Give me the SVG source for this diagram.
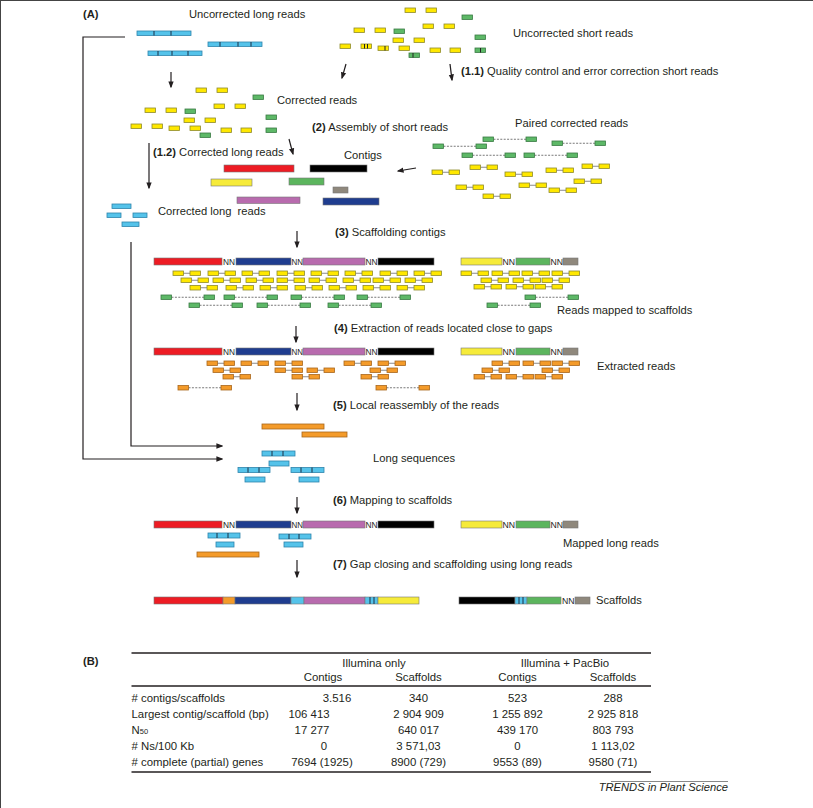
<svg xmlns="http://www.w3.org/2000/svg" width="813" height="808" viewBox="0 0 813 808">
<style>
text{font-family:"Liberation Sans",Arial,sans-serif;font-size:11.2px;fill:#231f20}
.bd{font-weight:bold}
.nn{font-size:9px;fill:#222}
.tb{font-size:11.4px}
.y{fill:#FFE800;stroke:#8E8A2C;stroke-width:0.8}
.g{fill:#5DB867;stroke:#3A7A44;stroke-width:0.8}
.b{fill:#55C3EA;stroke:#2D84AC;stroke-width:0.8}
.o{fill:#F49B2A;stroke:#A9671C;stroke-width:0.8}
.dv{stroke:#1C2E44;stroke-width:1}
.ln{stroke:#8a8a8a;stroke-width:1}
.ds{stroke:#555;stroke-width:0.8;stroke-dasharray:2 1.4}
.ar{fill:none;stroke:#231f20;stroke-width:1.2;marker-end:url(#ah)}
.tl{stroke:#231f20;stroke-width:1.4}
.bar{stroke:#777;stroke-width:0.6}
.mk{stroke:#222;stroke-width:1}
</style>
<defs>
<marker id="ah" viewBox="0 0 10 10" refX="8" refY="5" markerWidth="7" markerHeight="7" markerUnits="userSpaceOnUse" orient="auto"><path d="M0,1.2 L10,5 L0,8.8 z" fill="#231f20"/></marker>
<rect id="ry" class="y" width="10.5" height="4.5"/>
<rect id="rg" class="g" width="10.5" height="4.5"/>
<g id="yp"><line class="ln" x1="10.5" y1="2.25" x2="17" y2="2.25"/><rect class="y" width="10.5" height="4.5"/><rect class="y" x="17" width="10.5" height="4.5"/></g>
<g id="op"><line class="ln" x1="10.5" y1="2.25" x2="17" y2="2.25"/><rect class="o" width="10.5" height="4.5"/><rect class="o" x="17" width="10.5" height="4.5"/></g>
<g id="gp"><line class="ds" x1="10.5" y1="2.25" x2="43" y2="2.25"/><rect class="g" width="10.5" height="4.5"/><rect class="g" x="43" width="10.5" height="4.5"/></g>
<g id="odp"><line class="ds" x1="10.5" y1="2.25" x2="43" y2="2.25"/><rect class="o" width="10.5" height="4.5"/><rect class="o" x="43" width="10.5" height="4.5"/></g>
<g id="srset">
<use href="#ry" x="405" y="8"/><use href="#ry" x="426" y="8"/>
<use href="#ry" x="354" y="28"/><use href="#ry" x="375" y="28"/>
<use href="#ry" x="423" y="24"/><use href="#ry" x="444" y="24"/>
<use href="#ry" x="340" y="44"/><use href="#ry" x="361" y="44"/>
<use href="#ry" x="378" y="46"/><use href="#ry" x="393" y="38"/>
<use href="#ry" x="414" y="38"/><use href="#ry" x="399" y="46"/>
<use href="#ry" x="430" y="48"/><use href="#ry" x="450" y="48"/>
<use href="#rg" x="462" y="15"/><use href="#rg" x="394" y="29"/>
<use href="#rg" x="475" y="35"/><use href="#rg" x="409" y="53"/>
<use href="#rg" x="475" y="48"/>
</g>
<g id="scaf">
<rect class="bar" x="154" width="68" height="7" fill="#ED1C24"/>
<text class="nn" x="223" y="7" textLength="12" lengthAdjust="spacingAndGlyphs">NN</text>
<rect class="bar" x="236" width="55" height="7" fill="#1F3D8F"/>
<text class="nn" x="291.5" y="7" textLength="11.5" lengthAdjust="spacingAndGlyphs">NN</text>
<rect class="bar" x="303" width="62" height="7" fill="#B86BAE"/>
<text class="nn" x="365.5" y="7" textLength="12" lengthAdjust="spacingAndGlyphs">NN</text>
<rect class="bar" x="378" width="56" height="7" fill="#000"/>
<rect class="bar" x="461" width="41" height="7" fill="#F6EB3A"/>
<text class="nn" x="502.5" y="7" textLength="12.5" lengthAdjust="spacingAndGlyphs">NN</text>
<rect class="bar" x="516" width="34" height="7" fill="#5CB55E"/>
<text class="nn" x="550.5" y="7" textLength="12.5" lengthAdjust="spacingAndGlyphs">NN</text>
<rect class="bar" x="563" width="15" height="7" fill="#8F887C"/>
</g>
</defs>

<rect width="813" height="808" fill="#fff"/>
<line x1="0" y1="0.5" x2="813" y2="0.5" stroke="#444" stroke-width="1"/>
<line x1="0.5" y1="0" x2="0.5" y2="808" stroke="#444" stroke-width="1"/>

<g id="labels">
<text class="bd" x="83" y="18">(A)</text>
<text x="189" y="18">Uncorrected long reads</text>
<text x="513" y="37">Uncorrected short reads</text>
<text x="461" y="75"><tspan class="bd">(1.1)</tspan> Quality control and error correction short reads</text>
<text x="277" y="104">Corrected reads</text>
<text x="312" y="131"><tspan class="bd">(2)</tspan> Assembly of short reads</text>
<text x="515" y="127">Paired corrected reads</text>
<text x="153" y="156"><tspan class="bd">(1.2)</tspan> Corrected long reads</text>
<text x="344" y="159">Contigs</text>
<text x="158" y="215" xml:space="preserve">Corrected long  reads</text>
<text x="335" y="236"><tspan class="bd">(3)</tspan> Scaffolding contigs</text>
<text x="557" y="314">Reads mapped to scaffolds</text>
<text x="334" y="332"><tspan class="bd">(4)</tspan> Extraction of reads located close to gaps</text>
<text x="597" y="370">Extracted reads</text>
<text x="333" y="409"><tspan class="bd">(5)</tspan> Local reassembly of the reads</text>
<text x="373" y="462">Long sequences</text>
<text x="333" y="504"><tspan class="bd">(6)</tspan> Mapping to scaffolds</text>
<text x="563" y="547">Mapped long reads</text>
<text x="333" y="568"><tspan class="bd">(7)</tspan> Gap closing and scaffolding using long reads</text>
<text x="596" y="604">Scaffolds</text>
</g>

<g id="uncorrected-long-reads">
<rect class="b" x="137" y="31" width="54" height="4.5"/>
<line class="dv" x1="154" y1="31" x2="154" y2="35.5"/><line class="dv" x1="171" y1="31" x2="171" y2="35.5"/>
<rect class="b" x="208" y="42" width="54" height="4.5"/>
<line class="dv" x1="220" y1="42" x2="220" y2="46.5"/><line class="dv" x1="238" y1="42" x2="238" y2="46.5"/><line class="dv" x1="251" y1="42" x2="251" y2="46.5"/>
<rect class="b" x="148" y="51" width="54" height="4.5"/>
<line class="dv" x1="158" y1="51" x2="158" y2="55.5"/><line class="dv" x1="172" y1="51" x2="172" y2="55.5"/><line class="dv" x1="188" y1="51" x2="188" y2="55.5"/>
</g>

<g id="uncorrected-short-reads">
<use href="#srset"/>
<line class="mk" x1="364.5" y1="44" x2="364.5" y2="48.5"/><line class="mk" x1="367.5" y1="44" x2="367.5" y2="48.5"/>
<line class="mk" x1="385" y1="46" x2="385" y2="50.5"/>
<line class="mk" x1="413" y1="53" x2="413" y2="57.5"/>
<line class="mk" x1="480.5" y1="48" x2="480.5" y2="52.5"/>
</g>

<g id="corrected-reads">
<use href="#srset" x="-209" y="80"/>
</g>

<g id="contigs">
<rect class="bar" x="224" y="165" width="70" height="7" fill="#ED1C24"/>
<rect class="bar" x="310" y="165" width="57" height="7" fill="#000"/>
<rect class="bar" x="211" y="179" width="41" height="7" fill="#F6EB3A"/>
<rect class="bar" x="289" y="178" width="35" height="7" fill="#5CB55E"/>
<rect class="bar" x="333" y="187" width="15" height="6" fill="#8F887C"/>
<rect class="bar" x="237" y="197" width="63" height="6.5" fill="#B86BAE"/>
<rect class="bar" x="323" y="198" width="56" height="7" fill="#1F3D8F"/>
</g>

<g id="paired-corrected-reads">
<use href="#gp" x="433" y="144"/><use href="#gp" x="483" y="137"/><use href="#gp" x="552" y="141"/>
<use href="#gp" x="462" y="153"/><use href="#gp" x="524" y="153"/>
<use href="#yp" x="432" y="170"/><use href="#yp" x="470" y="165"/><use href="#yp" x="505" y="172"/>
<use href="#yp" x="546" y="168"/><use href="#yp" x="582" y="164"/><use href="#yp" x="456" y="185"/>
<use href="#yp" x="519" y="183"/><use href="#yp" x="549" y="188"/><use href="#yp" x="574" y="179"/>
<use href="#yp" x="483" y="194"/>
</g>

<g id="corrected-long-reads">
<rect class="b" x="112" y="204" width="19" height="4.5"/>
<rect class="b" x="107" y="213" width="14" height="4.5"/>
<rect class="b" x="133" y="213" width="14" height="4.5"/>
<rect class="b" x="122" y="222" width="17" height="4.5"/>
</g>

<g id="scaffolding">
<use href="#scaf" y="258"/>
<use href="#yp" x="173" y="271"/><use href="#yp" x="208" y="271"/><use href="#yp" x="242" y="271"/><use href="#yp" x="277" y="271"/>
<use href="#yp" x="311" y="271"/><use href="#yp" x="345" y="271"/><use href="#yp" x="380" y="271"/><use href="#yp" x="414" y="271"/>
<use href="#yp" x="461" y="271"/><use href="#yp" x="492" y="271"/><use href="#yp" x="522" y="271"/><use href="#yp" x="552" y="271"/>
<use href="#yp" x="181" y="278"/><use href="#yp" x="213" y="278"/><use href="#yp" x="246" y="278"/><use href="#yp" x="277" y="278"/>
<use href="#yp" x="309" y="278"/><use href="#yp" x="343" y="278"/><use href="#yp" x="373" y="278"/><use href="#yp" x="405" y="278"/>
<use href="#yp" x="481" y="278"/><use href="#yp" x="513" y="278"/><use href="#yp" x="542" y="278"/>
<use href="#yp" x="190" y="285.5"/><use href="#yp" x="226" y="285.5"/><use href="#yp" x="260" y="285.5"/><use href="#yp" x="295" y="285.5"/>
<use href="#yp" x="329" y="285.5"/><use href="#yp" x="363" y="285.5"/><use href="#yp" x="397" y="285.5"/>
<use href="#yp" x="474" y="284.5"/><use href="#yp" x="506" y="284.5"/><use href="#yp" x="535" y="284.5"/>
<use href="#gp" x="161" y="295"/><use href="#gp" x="224" y="295"/><use href="#gp" x="291" y="295"/><use href="#gp" x="357" y="295"/>
<use href="#gp" x="525" y="295"/>
<use href="#gp" x="189" y="303"/><use href="#gp" x="257" y="303"/><use href="#gp" x="328" y="303"/>
<use href="#gp" x="487" y="303"/>
</g>

<g id="extraction">
<use href="#scaf" y="348"/>
<use href="#op" x="207" y="361"/><use href="#op" x="241" y="361"/><use href="#op" x="275" y="361"/><use href="#op" x="344" y="361"/><use href="#op" x="378" y="361"/>
<use href="#op" x="492" y="361"/><use href="#op" x="523" y="361"/><use href="#op" x="552" y="361"/>
<use href="#op" x="213" y="368"/><use href="#op" x="275" y="368"/><use href="#op" x="307" y="368"/><use href="#op" x="370" y="368"/>
<use href="#op" x="482" y="368"/><use href="#op" x="542" y="368"/>
<use href="#op" x="223" y="374.5"/><use href="#op" x="292" y="374.5"/><use href="#op" x="361" y="374.5"/>
<use href="#op" x="474" y="374.5"/><use href="#op" x="506" y="374.5"/><use href="#op" x="535" y="374.5"/>
<use href="#odp" x="178" y="385.5"/><use href="#odp" x="376" y="385.5"/>
</g>

<g id="local-reassembly">
<rect class="o" x="262" y="424" width="62" height="5"/>
<rect class="o" x="302" y="432" width="45" height="5"/>
</g>

<g id="long-sequences">
<rect class="b" x="262" y="451" width="33" height="5"/>
<line class="dv" x1="272" y1="451" x2="272" y2="456"/><line class="dv" x1="283" y1="451" x2="283" y2="456"/>
<rect class="b" x="269" y="461" width="20" height="5"/>
<rect class="b" x="238" y="467.5" width="32" height="5"/>
<line class="dv" x1="248" y1="467.5" x2="248" y2="472.5"/><line class="dv" x1="259" y1="467.5" x2="259" y2="472.5"/>
<rect class="b" x="291" y="467.5" width="33" height="5"/>
<line class="dv" x1="301" y1="467.5" x2="301" y2="472.5"/><line class="dv" x1="312" y1="467.5" x2="312" y2="472.5"/>
<rect class="b" x="245" y="477" width="20" height="5"/>
<rect class="b" x="299" y="477" width="20" height="5"/>
</g>

<g id="mapping">
<use href="#scaf" y="521"/>
<rect class="b" x="208" y="533" width="32" height="5"/>
<line class="dv" x1="217" y1="533" x2="217" y2="538"/><line class="dv" x1="228" y1="533" x2="228" y2="538"/>
<rect class="b" x="216" y="542" width="18" height="5"/>
<rect class="b" x="279" y="534" width="32" height="5"/>
<line class="dv" x1="289" y1="534" x2="289" y2="539"/><line class="dv" x1="299" y1="534" x2="299" y2="539"/>
<rect class="b" x="284" y="542" width="19" height="5"/>
<rect class="o" x="197" y="552" width="62" height="5"/>
</g>

<g id="final-scaffolds">
<rect class="bar" x="154" y="597" width="69" height="7" fill="#ED1C24"/>
<rect class="bar" x="223" y="597" width="12" height="7" fill="#F49B2A"/>
<rect class="bar" x="235" y="597" width="56" height="7" fill="#1F3D8F"/>
<rect class="bar" x="291" y="597" width="13" height="7" fill="#55C3EA"/>
<rect class="bar" x="304" y="597" width="61" height="7" fill="#B86BAE"/>
<rect class="bar" x="365" y="597" width="13" height="7" fill="#55C3EA"/>
<line class="dv" x1="370" y1="597" x2="370" y2="604"/><line class="dv" x1="374" y1="597" x2="374" y2="604"/>
<rect class="bar" x="378" y="597" width="41" height="7" fill="#F6EB3A"/>
<rect class="bar" x="459" y="597" width="56" height="7" fill="#000"/>
<rect class="bar" x="515" y="597" width="12" height="7" fill="#55C3EA"/>
<line class="dv" x1="519" y1="597" x2="519" y2="604"/><line class="dv" x1="523" y1="597" x2="523" y2="604"/>
<rect class="bar" x="527" y="597" width="34" height="7" fill="#5CB55E"/>
<text class="nn" x="562" y="604" textLength="12.5" lengthAdjust="spacingAndGlyphs">NN</text>
<rect class="bar" x="575" y="597" width="15" height="7" fill="#8F887C"/>
</g>

<g id="connectors">
<line class="ar" x1="171" y1="72" x2="171" y2="87"/>
<line class="ar" x1="346" y1="64" x2="342" y2="78"/>
<line class="ar" x1="450" y1="64" x2="452" y2="80"/>
<line class="ar" x1="149" y1="143" x2="149" y2="188"/>
<line class="ar" x1="289" y1="139" x2="293" y2="154"/>
<line class="ar" x1="416" y1="168" x2="398" y2="171"/>
<line class="ar" x1="297" y1="231" x2="297" y2="247"/>
<line class="ar" x1="296" y1="326" x2="296" y2="342"/>
<line class="ar" x1="297" y1="393" x2="297" y2="410"/>
<line class="ar" x1="297" y1="497" x2="297" y2="513"/>
<line class="ar" x1="297" y1="560" x2="297" y2="577"/>
<polyline class="ar" points="125,37 83,37 83,459 222,459"/>
<polyline class="ar" points="131,242 131,446 222,446"/>
</g>

<g id="table">
<text class="bd" x="83" y="665">(B)</text>
<line class="tl" x1="131.5" y1="653" x2="651" y2="653"/>
<line class="tl" x1="131.5" y1="686" x2="651" y2="686"/>
<line class="tl" x1="131.5" y1="772" x2="651" y2="772"/>
<g class="tb" text-anchor="middle">
<text class="tb" x="374" y="667">Illumina only</text>
<text class="tb" x="565" y="667">Illumina + PacBio</text>
<text class="tb" x="323" y="681">Contigs</text>
<text class="tb" x="418.5" y="681">Scaffolds</text>
<text class="tb" x="517.5" y="681">Contigs</text>
<text class="tb" x="613" y="681">Scaffolds</text>
<text class="tb" x="337" y="702">3.516</text>
<text class="tb" x="418.5" y="702">340</text>
<text class="tb" x="517.5" y="702">523</text>
<text class="tb" x="613" y="702">288</text>
<text class="tb" x="309" y="718">106 413</text>
<text class="tb" x="418.5" y="718">2 904 909</text>
<text class="tb" x="517.5" y="718">1 255 892</text>
<text class="tb" x="613" y="718">2 925 818</text>
<text class="tb" x="312" y="734">17 277</text>
<text class="tb" x="418.5" y="734">640 017</text>
<text class="tb" x="517.5" y="734">439 170</text>
<text class="tb" x="613" y="734">803 793</text>
<text class="tb" x="324" y="750">0</text>
<text class="tb" x="418.5" y="750">3 571,03</text>
<text class="tb" x="517.5" y="750">0</text>
<text class="tb" x="613" y="750">1 113,02</text>
<text class="tb" x="322" y="766">7694 (1925)</text>
<text class="tb" x="418.5" y="766">8900 (729)</text>
<text class="tb" x="517.5" y="766">9553 (89)</text>
<text class="tb" x="613" y="766">9580 (71)</text>
</g>
<text class="tb" x="131.5" y="702"># contigs/scaffolds</text>
<text class="tb" x="131.5" y="718">Largest contig/scaffold (bp)</text>
<text class="tb" x="131.5" y="734">N<tspan font-size="7.5">50</tspan></text>
<text class="tb" x="131.5" y="750"># Ns/100 Kb</text>
<text class="tb" x="131.5" y="766"># complete (partial) genes</text>
<line x1="611" y1="781.5" x2="728" y2="781.5" stroke="#555" stroke-width="0.7"/>
<text x="728" y="791" text-anchor="end" font-style="italic" font-size="9.5">TRENDS in Plant Science</text>
</g>
</svg>
